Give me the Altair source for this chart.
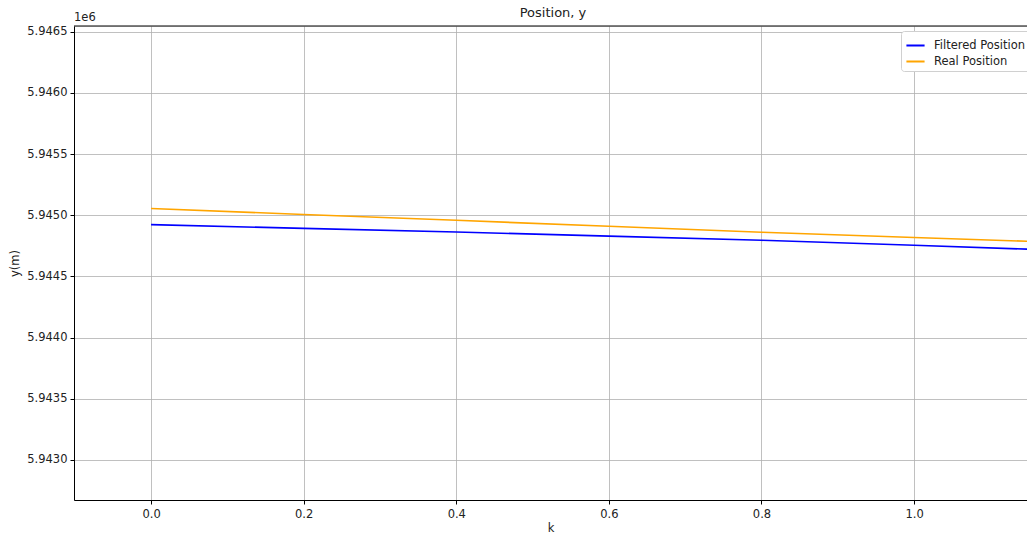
import altair as alt
import pandas as pd

k_vals = [0.0, 0.2, 0.4, 0.6, 0.8, 1.0, 1.2]
filtered_y = [5944924, 5944893, 5944863, 5944830, 5944796, 5944755, 5944712]
real_y = [5945055, 5945007, 5944959, 5944910, 5944861, 5944818, 5944777]
series_names = ["Filtered Position", "Real Position"]
series_colors = ["#0000ff", "#ffa500"]
x_ticks = [0.0, 0.2, 0.4, 0.6, 0.8, 1.0]
y_ticks = [5943000, 5943500, 5944000, 5944500, 5945000, 5945500, 5946000, 5946500]
title_text = "Position, y"
offset_text = "1e6"

rows = []
for k, f, r in zip(k_vals, filtered_y, real_y):
    rows.append({"k": k, "y": f, "series": series_names[0]})
    rows.append({"k": k, "y": r, "series": series_names[1]})
df = pd.DataFrame(rows)

FONT = "DejaVu Sans"
TXT = "#222222"

lines = alt.Chart(df).mark_line(strokeWidth=1.6, clip=True).encode(
    x=alt.X("k:Q", scale=alt.Scale(domain=[-0.101, 1.148], nice=False, zero=False),
            axis=alt.Axis(values=x_ticks, format=".1f", title="k", grid=True,
                          gridColor="#b0b0b0", gridWidth=0.8, domainColor="#000000",
                          domainWidth=1, tickColor="#000000", tickSize=4,
                          labelFont=FONT, labelFontSize=11.5, labelColor=TXT,
                          titleFont=FONT, titleFontSize=11.5, titleFontWeight="normal",
                          titleColor=TXT, titlePadding=3, labelPadding=4)),
    y=alt.Y("y:Q", scale=alt.Scale(domain=[5942673, 5946547], nice=False, zero=False),
            axis=alt.Axis(values=y_ticks, labelExpr="format(datum.value/1e6, '.4f')",
                          title="y(m)", grid=True, gridColor="#b0b0b0", gridWidth=0.8,
                          domainColor="#000000", domainWidth=1, tickColor="#000000",
                          tickSize=4, labelFont=FONT, labelFontSize=11.5,
                          labelColor=TXT, titleFont=FONT, titleFontSize=11.5,
                          titleFontWeight="normal", titleColor=TXT,
                          titlePadding=6, labelPadding=3)),
    color=alt.Color("series:N", scale=alt.Scale(domain=series_names, range=series_colors),
                    legend=alt.Legend(title=None, orient="none", legendX=827, legendY=5,
                                      symbolType="stroke", symbolStrokeWidth=2,
                                      symbolSize=330, fillColor="white",
                                      strokeColor="#d0d0d0", padding=4, cornerRadius=3,
                                      labelFont=FONT, labelFontSize=11.5, labelOffset=8,
                                      labelColor=TXT, rowPadding=0)),
)

offset = alt.Chart(pd.DataFrame({"t": [offset_text]})).mark_text(
    align="left", baseline="bottom", font=FONT, fontSize=11.5, color=TXT
).encode(x=alt.value(0), y=alt.value(-3), text="t:N")

title = alt.Chart(pd.DataFrame({"t": [title_text]})).mark_text(
    align="center", baseline="bottom", font=FONT, fontSize=13, color=TXT
).encode(x=alt.value(479), y=alt.value(-6), text="t:N")

top_rule = alt.Chart(pd.DataFrame({"a": [0]})).mark_rule(color="#000000", strokeWidth=1).encode(
    x=alt.value(0), x2=alt.value(953), y=alt.value(0)
)

chart = alt.layer(lines, top_rule, offset, title).properties(
    width=953, height=474,
    autosize=alt.AutoSizeParams(type="none"),
    padding={"left": 74, "top": 26, "right": 0, "bottom": 36},
).configure_view(stroke=None).configure(background="white")

chart.save("out.html", embed_options={"renderer": "svg", "actions": False})
